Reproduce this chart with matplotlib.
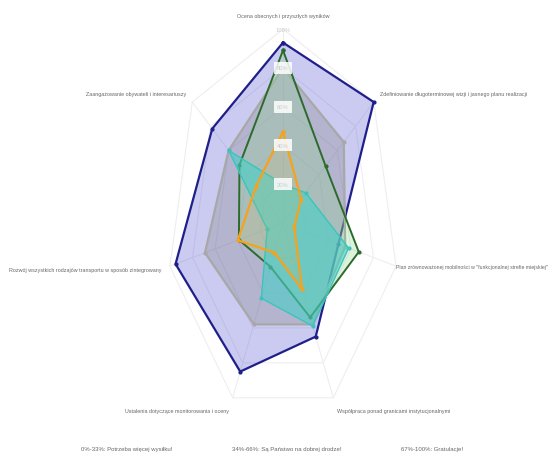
import numpy as np
import matplotlib
matplotlib.use("Agg")
import matplotlib.pyplot as plt
from matplotlib import font_manager

names = {f.name for f in font_manager.fontManager.ttflist}
font = "Liberation Sans Narrow" if "Liberation Sans Narrow" in names else "Liberation Sans"
plt.rcParams["font.family"] = [font, "DejaVu Sans"]
lab_size = 4.8 if font == "Liberation Sans Narrow" else 3.9

# osie (zgodnie z ruchem wskazówek zegara od góry)
categories = [
    "Ocena obecnych i przyszłych wyników",
    "Zdefiniowanie długoterminowej wizji i jasnego planu realizacji",
    "Plan zrównoważonej mobilności w \"funkcjonalnej strefie miejskiej\"",
    "Współpraca ponad granicami instytucjonalnymi",
    "Ustalenia dotyczące monitorowania i oceny",
    "Rozwój wszystkich rodzajów transportu w sposób zintegrowany",
    "Zaangażowanie obywateli i interesariuszy",
]
navy = [93, 100, 49, 65, 85, 95, 78]
gray = [80, 67, 55, 58, 58, 69, 60]
green = [89, 47, 67, 54, 25, 39, 48]
teal = [20, 25, 58, 59, 43, 14, 60]
orange = [47, 20, 10, 38, 17, 40, 30]
ticks = [20, 40, 60, 80, 100]
tick_labels = ["20%", "40%", "60%", "80%", "100%"]
footer = ["0%-33%: Potrzeba więcej wysiłku!",
          "34%-66%: Są Państwo na dobrej drodze!",
          "67%-100%: Gratulacje!"]

n = len(categories)
ang = np.arange(n) * 2 * np.pi / n


def xy(vals):
    v = np.asarray(vals, dtype=float)
    x = v * np.sin(ang)
    y = v * np.cos(ang)
    return np.append(x, x[0]), np.append(y, y[0])


fig = plt.figure(figsize=(5.52, 4.60), dpi=100)
ax = fig.add_axes([0, 0, 1, 1])
ax.axis("off")
# obraz jest ściśnięty poziomo: 100 jednostek = 116 px w poziomie, 194 px w pionie
cx, cy, sx, sy = 283, 224, 1.16, 1.94
ax.set_xlim(-cx / sx, (552 - cx) / sx)
ax.set_ylim(-(460 - cy) / sy, cy / sy)

# siatka
for t in ticks:
    gx, gy = xy([t] * n)
    ax.plot(gx, gy, color="#eeeeee", lw=0.8, zorder=1)
for a in ang:
    ax.plot([0, 100 * np.sin(a)], [0, 100 * np.cos(a)], color="#eeeeee", lw=0.8, zorder=1)

series = [
    (navy, "#1f1f8a", "#3333cc", 0.25, 1.6),
    (gray, "#a8a8a8", "#808080", 0.3, 1.6),
    (green, "#2c6b2c", "#90d890", 0.3, 1.4),
    (teal, "#3cc4bc", "#48d0c8", 0.6, 1.0),
    (orange, "#f5a21e", "#f5b040", 0.12, 1.6),
]
for i, (vals, lc, fc, al, lw) in enumerate(series):
    px, py = xy(vals)
    ax.fill(px, py, color=fc, alpha=al, lw=0, zorder=2 + i)
    ax.plot(px, py, color=lc, lw=lw, marker="o", ms=2.0, zorder=2 + i)

# etykiety wartości na osi pionowej
for t, lab in zip(ticks, tick_labels):
    if t == 100:
        ax.text(0, t, lab, ha="center", va="center", fontsize=4.2, color="#cccccc", zorder=10)
    else:
        ax.text(0, t, lab, ha="center", va="center", fontsize=4.2, color="#cccccc", zorder=10,
                bbox=dict(boxstyle="square,pad=0.6", fc="white", ec="none", alpha=0.85))

# etykiety osi
for i, (a, lab) in enumerate(zip(ang, categories)):
    r = 100 if i == 2 else 107
    s = np.sin(a)
    if abs(s) < 1e-6:
        ha = "center"
    elif s > 0:
        ha = "left"
    else:
        ha = "right"
    ax.text(r * s, r * np.cos(a), lab, ha=ha, va="center",
            fontsize=lab_size - 0.2 if i == 2 else lab_size,
            color="#666666", zorder=10)

for xf, lab in zip([0.23, 0.52, 0.783], footer):
    fig.text(xf, 0.022, lab, ha="center", va="center", fontsize=lab_size + 0.4, color="#666666")

fig.savefig("out.png", dpi=100, facecolor="white")
